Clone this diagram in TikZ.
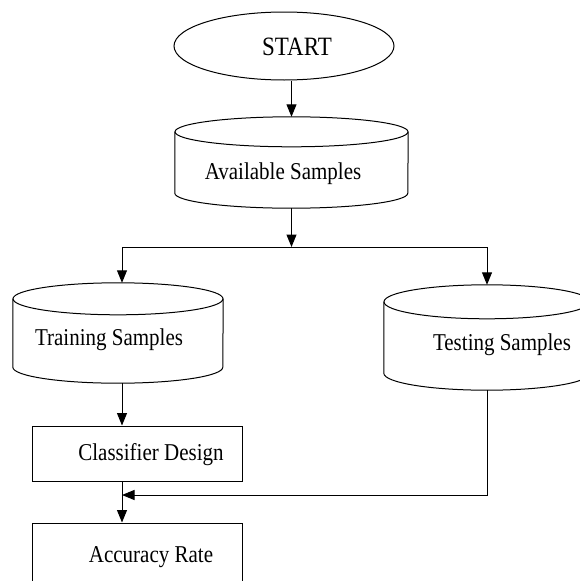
\documentclass[tikz,border=0pt]{standalone}
\usepackage{fontspec}
\setmainfont{Liberation Serif}
\usepackage{graphicx}
\usetikzlibrary{arrows.meta,shapes.geometric}
\tikzset{
  line/.style={line width=1pt, draw=black},
  arr/.style={line, -{Triangle[length=12.5pt,width=10pt]}},
  startshape/.style={ellipse, line, inner sep=0pt, minimum width=220pt, minimum height=68pt},
  cylbox/.style={rectangle, inner sep=0pt},
  procbox/.style={rectangle, line, inner sep=0pt, minimum width=210pt},
  txt/.style={inner sep=0pt, font=\fontsize{21}{24}\selectfont},
}
\newcommand{\tx}[1]{\scalebox{1}[1.15]{#1}}
% \drawcyl{name}{half width}{ry}
\newcommand{\drawcyl}[3]{%
  \draw[line] ([yshift=-#3]#1.north west) -- ([yshift=#3]#1.south west)
     arc[start angle=180, end angle=360, x radius=#2, y radius=#3]
     -- ([yshift=-#3]#1.north east);
  \draw[line] ([yshift=-#3]#1.north) ellipse[x radius=#2, y radius=#3];
}
\begin{document}
\begin{tikzpicture}[x=1pt,y=-1pt]
\useasboundingbox (0,0) rectangle (580,581);
\clip (0,0) rectangle (580,581);
% start
\node[startshape] (start) at (284,46) {};
\node[txt, font=\fontsize{23}{26}\selectfont] (starttxt) at (297,47) {\tx{START}};
% available samples
\node[cylbox, minimum width=233pt, minimum height=91pt] (av) at (291.5,162.5) {};
\drawcyl{av}{116.5pt}{15pt}
\node[txt] (avtxt) at (283,174) {\tx{Available Samples}};
% training samples
\node[cylbox, minimum width=210pt, minimum height=100pt] (tr) at (118,333) {};
\drawcyl{tr}{105pt}{16pt}
\node[txt] (trtxt) at (109,340) {\tx{Training Samples}};
% testing samples
\node[cylbox, minimum width=206pt, minimum height=105pt] (te) at (487,337.5) {};
\drawcyl{te}{103pt}{17pt}
\node[txt] (tetxt) at (502,345) {\tx{Testing Samples}};
% classifier
\node[procbox, minimum height=55pt] (cd) at (137,453.5) {};
\node[txt] (cdtxt) at (151,455) {\tx{Classifier Design}};
% accuracy
\node[procbox, minimum height=67pt] (ac) at (137,556.5) {};
\node[txt] (actxt) at (151,557) {\tx{Accuracy Rate}};
% helper coordinates
\coordinate (col) at (122,0);
\coordinate (split) at (291.5,247);
\coordinate (fb) at (122,495);
% connectors
\draw[arr] (start.south -| av.north) -- (av.north);
\draw[arr] (av.south) -- (split);
\draw[arr] (split) -| (tr.north -| col);
\draw[arr] (split) -| (te.north);
\draw[arr] (tr.south -| col) -- (cd.north -| col);
\draw[arr] (cd.south -| col) -- (ac.north -| col);
\draw[arr] (te.south) |- (fb);
\end{tikzpicture}
\end{document}
